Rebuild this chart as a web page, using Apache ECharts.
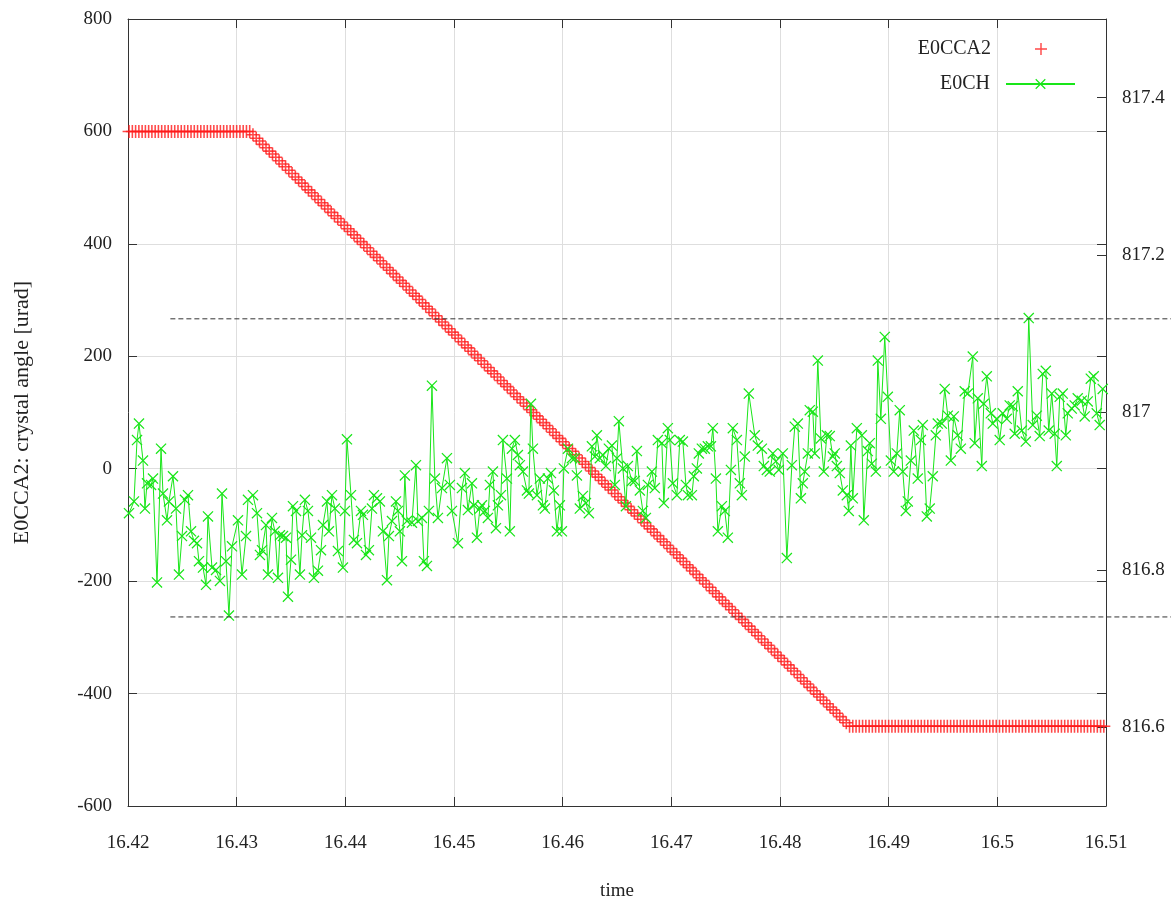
<!DOCTYPE html>
<html>
<head>
<meta charset="utf-8">
<script src="https://cdn.jsdelivr.net/npm/echarts@6/dist/echarts.min.js"></script>
<style>
html,body{margin:0;padding:0;background:#fff;}
#chart{width:1171px;height:906px;}
</style>
</head>
<body>
<div id="chart"></div>
<script>
// ---------------- data ----------------
const xTickStep = 0.01;
const leftTickStep = 200;
const rightTicks = [816.6, 816.8, 817, 817.2, 817.4];

// E0CCA2 (left axis, urad)
const redT = [
16.4201,16.4204,16.4207,16.421,16.4213,16.4216,16.4219,16.4222,16.4225,16.4228,
16.4231,16.4234,16.4237,16.424,16.4243,16.4246,16.4249,16.4252,16.4255,16.4258,
16.4261,16.4264,16.4267,16.427,16.4273,16.4276,16.4279,16.4282,16.4285,16.4288,
16.4291,16.4294,16.4297,16.43,16.4303,16.4306,16.4309,16.4312,16.4315,16.4318,
16.4321,16.4324,16.4327,16.433,16.4333,16.4336,16.4339,16.4342,16.4345,16.4348,
16.4351,16.4354,16.4357,16.436,16.4363,16.4366,16.4369,16.4372,16.4375,16.4378,
16.4381,16.4384,16.4387,16.439,16.4393,16.4396,16.4399,16.4402,16.4405,16.4408,
16.4411,16.4414,16.4417,16.442,16.4423,16.4426,16.4429,16.4432,16.4435,16.4438,
16.4441,16.4444,16.4447,16.445,16.4453,16.4456,16.4459,16.4462,16.4465,16.4468,
16.4471,16.4474,16.4477,16.448,16.4483,16.4486,16.4489,16.4492,16.4495,16.4498,
16.4501,16.4504,16.4507,16.451,16.4513,16.4516,16.4519,16.4522,16.4525,16.4528,
16.4531,16.4534,16.4537,16.454,16.4543,16.4546,16.4549,16.4552,16.4555,16.4558,
16.4561,16.4564,16.4567,16.457,16.4573,16.4576,16.4579,16.4582,16.4585,16.4588,
16.4591,16.4594,16.4597,16.46,16.4603,16.4606,16.4609,16.4612,16.4615,16.4618,
16.4621,16.4624,16.4627,16.463,16.4633,16.4636,16.4639,16.4642,16.4645,16.4648,
16.4651,16.4654,16.4657,16.466,16.4663,16.4666,16.4669,16.4672,16.4675,16.4678,
16.4681,16.4684,16.4687,16.469,16.4693,16.4696,16.4699,16.4702,16.4705,16.4708,
16.4711,16.4714,16.4717,16.472,16.4723,16.4726,16.4729,16.4732,16.4735,16.4738,
16.4741,16.4744,16.4747,16.475,16.4753,16.4756,16.4759,16.4762,16.4765,16.4768,
16.4771,16.4774,16.4777,16.478,16.4783,16.4786,16.4789,16.4792,16.4795,16.4798,
16.4801,16.4804,16.4807,16.481,16.4813,16.4816,16.4819,16.4822,16.4825,16.4828,
16.4831,16.4834,16.4837,16.484,16.4843,16.4846,16.4849,16.4852,16.4855,16.4858,
16.4861,16.4864,16.4867,16.487,16.4873,16.4876,16.4879,16.4882,16.4885,16.4888,
16.4891,16.4894,16.4897,16.49,16.4903,16.4906,16.4909,16.4912,16.4915,16.4918,
16.4921,16.4924,16.4927,16.493,16.4933,16.4936,16.4939,16.4942,16.4945,16.4948,
16.4951,16.4954,16.4957,16.496,16.4963,16.4966,16.4969,16.4972,16.4975,16.4978,
16.4981,16.4984,16.4987,16.499,16.4993,16.4996,16.4999,16.5002,16.5005,16.5008,
16.5011,16.5014,16.5017,16.502,16.5023,16.5026,16.5029,16.5032,16.5035,16.5038,
16.5041,16.5044,16.5047,16.505,16.5053,16.5056,16.5059,16.5062,16.5065,16.5068,
16.5071,16.5074,16.5077,16.508,16.5083,16.5086,16.5089,16.5092,16.5095,16.5098
];
const redV = [
600,600,600,600,600,600,600,600,600,600,
600,600,600,600,600,600,600,600,600,600,
600,600,600,600,600,600,600,600,600,600,
600,600,600,600,600,600,600,600,594,588,
583,577,571,565,560,554,548,542,537,531,
525,519,514,508,502,496,491,485,479,473,
468,462,456,450,445,439,433,427,422,416,
410,404,399,393,387,381,376,370,364,358,
353,347,341,335,330,324,318,312,307,301,
295,289,284,278,272,266,261,255,249,243,
238,232,226,220,215,209,203,197,192,186,
180,174,169,163,157,151,146,140,134,128,
123,117,111,105,100,94,88,82,77,71,
65,59,54,48,42,36,31,25,19,13,
8,2,-4,-10,-15,-21,-27,-33,-38,-44,
-50,-56,-61,-67,-73,-79,-84,-90,-96,-102,
-107,-113,-119,-125,-130,-136,-142,-148,-153,-159,
-165,-171,-176,-182,-188,-194,-199,-205,-211,-217,
-222,-228,-234,-240,-245,-251,-257,-263,-268,-274,
-280,-286,-291,-297,-303,-309,-314,-320,-326,-332,
-337,-343,-349,-355,-360,-366,-372,-378,-383,-389,
-395,-401,-406,-412,-418,-424,-429,-435,-441,-447,
-452,-458,-458,-458,-458,-458,-458,-458,-458,-458,
-458,-458,-458,-458,-458,-458,-458,-458,-458,-458,
-458,-458,-458,-458,-458,-458,-458,-458,-458,-458,
-458,-458,-458,-458,-458,-458,-458,-458,-458,-458,
-458,-458,-458,-458,-458,-458,-458,-458,-458,-458,
-458,-458,-458,-458,-458,-458,-458,-458,-458,-458,
-458,-458,-458,-458,-458,-458,-458,-458,-458,-458,
-458,-458,-458,-458,-458,-458,-458,-458,-458,-458
];

// E0CH (right axis)
const greenT = [
16.42009,16.42055,16.42083,16.42101,16.42138,16.42156,16.42175,16.42212,16.4223,16.42267,16.42304,16.42322,16.42359,16.42377,16.42414,16.42442,16.42469,16.42497,16.42524,16.42552,16.4258,16.42607,16.42635,16.42653,16.4269,16.42718,16.42736,16.42773,16.4281,16.42846,16.42865,16.42902,16.42929,
16.42957,16.43012,16.43049,16.43086,16.43104,16.4315,16.43187,16.43214,16.43233,16.4327,16.43288,16.43325,16.43352,16.4338,16.43398,16.43426,16.43454,16.43472,16.435,16.43518,16.43546,16.43582,16.43601,16.43628,16.43656,16.43684,16.43711,16.43748,16.43776,16.43794,16.43831,16.43849,16.43877,16.43904,
16.43932,16.43978,16.43996,16.44015,16.44052,16.44079,16.44107,16.44144,16.44162,16.4419,16.44217,16.44245,16.44263,16.44291,16.44318,16.44346,16.44383,16.44401,16.44429,16.44466,16.44484,16.44502,16.44521,16.44548,16.44567,16.44613,16.4465,16.44668,16.44705,16.44723,16.44751,16.44769,16.44797,16.44824,16.44852,
16.44889,16.44935,16.44962,16.44981,16.45036,16.45073,16.451,16.45128,16.45165,16.45183,16.45211,16.45238,16.45257,16.45284,16.45312,16.4533,16.45358,16.45386,16.45404,16.45432,16.4545,16.45487,16.45514,16.45533,16.4556,16.45588,16.45606,16.45634,16.45671,16.45689,16.45708,16.45726,16.45763,16.4579,16.45818,
16.45836,16.45864,16.45892,16.45919,16.45947,16.45974,16.45993,16.46011,16.46048,16.46085,16.46112,16.46131,16.46158,16.46186,16.46214,16.46241,16.46269,16.46296,16.46315,16.46342,16.4637,16.46398,16.46425,16.46453,16.4648,16.46499,16.46517,16.46554,16.46582,16.466,16.46637,16.46664,16.46683,16.4671,16.46738,16.46766,
16.46784,16.46821,16.46848,16.46876,16.46913,16.46931,16.46968,16.46986,16.47014,16.47051,16.47078,16.47106,16.47134,16.47152,16.47189,16.47207,16.47235,16.47253,16.47281,16.47308,16.47336,16.47364,16.47382,16.4741,16.47428,16.47465,16.47492,16.4752,16.47548,16.47566,16.47603,16.4763,16.47649,16.47676,16.47713,
16.47768,16.47796,16.47833,16.47851,16.47879,16.47906,16.47934,16.47962,16.47989,16.48026,16.48063,16.48109,16.48136,16.48164,16.48192,16.4821,16.48228,16.48256,16.48274,16.48302,16.4832,16.48348,16.48376,16.48403,16.48431,16.48458,16.48486,16.48504,16.48523,16.4855,16.48578,16.48615,16.48633,16.48652,16.4867,16.48707,
16.48753,16.48771,16.48808,16.48826,16.48845,16.48882,16.489,16.48928,16.48964,16.48992,16.4902,16.49047,16.49075,16.49102,16.4913,16.49158,16.49176,16.49204,16.49231,16.49268,16.49296,16.49314,16.49351,16.49378,16.49406,16.49434,16.49452,16.49489,16.49516,16.49544,16.49572,16.49599,16.49636,16.49664,
16.497,16.49728,16.49774,16.49792,16.4982,16.49857,16.49875,16.49903,16.4994,16.49958,16.49995,16.50022,16.5005,16.50087,16.50114,16.50142,16.5016,16.50188,16.50225,16.50262,16.50289,16.50326,16.50363,16.5039,16.50418,16.50446,16.50473,16.50501,16.50528,16.50547,16.50574,16.50602,16.5063,16.50648,16.50685,16.50712,16.5074,16.50777,16.50804,16.50832,16.5086,16.50887,16.50915,16.50942,16.5097
];
const greenV = [
816.872,816.887,816.965,816.986,816.939,816.878,816.910,816.908,816.916,816.784,816.954,816.897,816.863,816.887,816.919,816.878,816.794,816.843,816.889,816.895,816.849,816.837,816.834,816.811,816.803,816.781,816.868,816.803,816.800,816.786,816.897,816.811,816.742,
816.830,816.863,816.794,816.843,816.889,816.895,816.872,816.819,816.825,816.857,816.794,816.866,816.849,816.790,816.844,816.843,816.841,816.766,816.813,816.881,816.875,816.794,816.844,816.889,816.875,816.841,816.790,816.799,816.825,816.857,816.887,816.849,816.895,816.878,
816.824,816.803,816.875,816.966,816.895,816.838,816.834,816.875,816.870,816.819,816.825,816.878,816.895,816.891,816.887,816.849,816.787,816.843,816.862,816.887,816.875,816.849,816.811,816.920,816.862,816.860,816.933,816.862,816.866,816.811,816.805,816.875,817.034,816.916,816.866,
816.904,816.942,816.908,816.875,816.834,816.904,816.923,816.876,816.910,816.882,816.841,816.878,816.882,816.875,816.866,816.908,816.925,816.853,816.882,816.895,816.965,816.916,816.849,816.954,816.965,816.946,816.933,816.925,816.901,816.897,817.011,816.954,816.895,816.916,816.882,
816.878,816.916,816.923,816.901,816.849,816.882,816.849,816.929,816.954,816.942,816.942,816.920,816.878,816.894,816.885,816.872,816.957,816.944,816.971,816.942,816.946,816.932,816.954,816.958,816.908,816.942,816.989,816.929,816.881,816.932,816.913,816.913,816.951,816.901,816.875,816.866,
816.908,816.925,816.904,816.965,816.961,816.885,816.980,816.965,816.910,816.895,816.965,816.963,816.908,816.895,816.895,816.919,816.929,816.948,816.954,816.954,816.957,816.957,816.980,816.916,816.849,816.881,816.875,816.841,816.927,816.980,816.965,816.910,816.895,816.944,817.024,
816.971,816.958,816.954,816.932,816.927,816.925,816.948,816.938,816.927,816.948,816.815,816.933,816.982,816.986,816.891,816.910,816.925,816.948,817.003,817.001,816.948,817.066,816.967,816.925,816.971,816.970,816.944,816.948,816.932,816.923,816.901,816.895,816.875,816.958,816.891,816.980,
816.971,816.863,816.951,816.961,816.935,816.925,817.066,816.992,817.096,817.020,816.939,816.925,816.948,817.003,816.925,816.875,816.887,816.939,816.977,816.916,816.965,816.984,816.868,816.878,816.919,816.971,816.986,816.986,817.030,816.996,816.939,816.995,816.971,816.954,
817.027,817.024,817.071,816.961,817.018,816.932,817.011,817.046,816.999,816.986,816.992,816.965,816.999,816.992,817.009,817.008,816.973,817.027,816.977,816.963,817.120,816.984,816.996,816.970,817.049,817.053,816.977,817.024,816.973,816.932,817.020,817.024,816.971,816.999,817.005,817.009,817.018,817.015,816.995,817.014,817.043,817.046,816.999,816.984,817.030
];

// dashed reference levels (left-axis units) and their time span
const dashLevels = [268, -261];
const dashSpan = [16.4239, 16.516];

// ---------------- chart ----------------
const FONT = 'Liberation Serif, DejaVu Serif, serif';
const TXT = '#222';
const AX = '#333';
const PLUS = 'path://M4.4,0H5.6V10H4.4Z M0,4.4H10V5.6H0Z';
const CROSS = 'path://M0,0.8L0.8,0L10,9.2L9.2,10Z M9.2,0L10,0.8L0.8,10L0,9.2Z';

const chart = echarts.init(document.getElementById('chart'), null, {renderer: 'canvas'});

const tickStyle = {inside: true, length: 9, lineStyle: {color: AX, width: 1}};
const labelStyle = {color: TXT, fontFamily: FONT, fontSize: 19};

const option = {
  animation: false,
  backgroundColor: '#ffffff',
  grid: [
    {left: 128, right: 65, top: 19, bottom: 98},
    {left: 128, right: 0, top: 19, bottom: 98}
  ],
  legend: [
    {data: ['E0CCA2'], orient: 'vertical', right: 124, top: 39, align: 'right', padding: 0,
     itemWidth: 12, itemHeight: 12,
     textStyle: {color: TXT, fontFamily: FONT, fontSize: 20, padding: [0, 39, 0, 0]}},
    {data: ['E0CH'], orient: 'vertical', right: 95, top: 74, align: 'right', padding: 0,
     itemWidth: 69, itemHeight: 13,
     textStyle: {color: TXT, fontFamily: FONT, fontSize: 20, padding: [0, 11, 0, 0]}}
  ],
  xAxis: [
    {type: 'value', gridIndex: 0, position: 'bottom', min: 16.42, max: 16.51, interval: xTickStep,
     name: 'time', nameLocation: 'middle', nameGap: 76,
     nameTextStyle: {color: TXT, fontFamily: FONT, fontSize: 19},
     axisLine: {show: true, onZero: false, lineStyle: {color: AX, width: 1}},
     axisTick: tickStyle,
     axisLabel: Object.assign({margin: 28}, labelStyle),
     splitLine: {show: true, lineStyle: {color: '#dedede', width: 1}}},
    {type: 'value', gridIndex: 0, position: 'top', min: 16.42, max: 16.51, interval: xTickStep,
     axisLine: {show: true, onZero: false, lineStyle: {color: AX, width: 1}},
     axisTick: tickStyle, axisLabel: {show: false}, splitLine: {show: false}},
    {type: 'value', gridIndex: 1, min: 16.42, max: dashSpan[1], show: false}
  ],
  yAxis: [
    {type: 'value', gridIndex: 0, position: 'left', min: -600, max: 800, interval: leftTickStep,
     name: 'E0CCA2: crystal angle [urad]', nameLocation: 'middle', nameGap: 95,
     nameTextStyle: {color: TXT, fontFamily: FONT, fontSize: 22},
     axisLine: {show: true, onZero: false, lineStyle: {color: AX, width: 1}},
     axisTick: tickStyle,
     axisLabel: Object.assign({margin: 16}, labelStyle),
     splitLine: {show: true, lineStyle: {color: '#dedede', width: 1}}},
    {type: 'value', gridIndex: 0, position: 'right', min: 816.5, max: 817.5,
     axisLine: {show: true, onZero: false, lineStyle: {color: AX, width: 1}},
     axisTick: Object.assign({customValues: rightTicks}, tickStyle),
     axisLabel: Object.assign({margin: 16, customValues: rightTicks}, labelStyle),
     splitLine: {show: false}},
    {type: 'value', gridIndex: 0, position: 'right', min: -600, max: 800, interval: leftTickStep,
     axisLine: {show: false}, axisTick: tickStyle, axisLabel: {show: false}, splitLine: {show: false}},
    {type: 'value', gridIndex: 1, min: -600, max: 800, show: false}
  ],
  series: [
    {type: 'scatter', name: 'E0CCA2', xAxisIndex: 0, yAxisIndex: 0,
     data: redT.map((t, i) => [t, redV[i]]),
     symbol: PLUS, symbolSize: 13, symbolKeepAspect: true,
     itemStyle: {color: '#ff1a1a', opacity: 0.8}, z: 2},
    {type: 'line', name: 'E0CH', xAxisIndex: 0, yAxisIndex: 1,
     data: greenT.map((t, i) => [t, greenV[i]]),
     symbol: CROSS, symbolSize: 11, symbolKeepAspect: true, showAllSymbol: true,
     lineStyle: {color: '#19e619', width: 1}, itemStyle: {color: '#19e619'}, z: 3},
    {type: 'line', name: 'upper', xAxisIndex: 2, yAxisIndex: 3,
     data: [[dashSpan[0], dashLevels[0]], [dashSpan[1], dashLevels[0]]],
     symbol: 'none', silent: true, clip: false,
     lineStyle: {color: '#333', width: 1, type: [5, 3]}, z: 4},
    {type: 'line', name: 'lower', xAxisIndex: 2, yAxisIndex: 3,
     data: [[dashSpan[0], dashLevels[1]], [dashSpan[1], dashLevels[1]]],
     symbol: 'none', silent: true, clip: false,
     lineStyle: {color: '#333', width: 1, type: [5, 3]}, z: 4}
  ]
};
chart.setOption(option);
</script>
</body>
</html>
